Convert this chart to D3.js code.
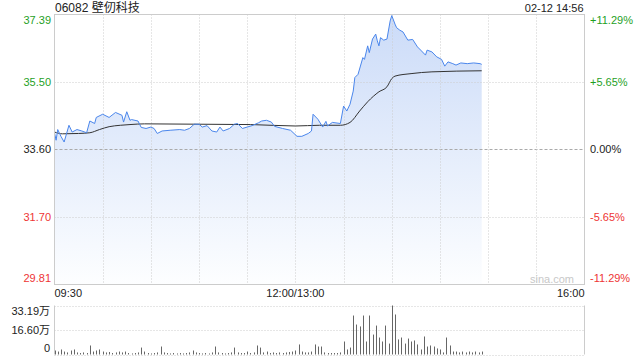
<!DOCTYPE html>
<html>
<head>
<meta charset="utf-8">
<script src="https://cdn.jsdelivr.net/npm/d3@7"></script>
<style>
  body { margin: 0; background: #fff; }
  text { font-family: "Liberation Sans", Arial, "Noto Sans CJK SC", sans-serif; }
</style>
</head>
<body>
<script>
'use strict';

// header texts
const stockTitle = '06082 壁仞科技';
const stampText = '02-12 14:56';

// price axis, left = price, right = change vs previous close
const priceTicks = [37.39, 35.50, 33.60, 31.70, 29.81];
const pctTicks = ['+11.29%', '+5.65%', '0.00%', '-5.65%', '-11.29%'];

// time axis in trading minutes after 09:30 (lunch break removed)
const timeTicks = [0, 150, 330];
const timeLabels = ['09:30', '12:00/13:00', '16:00'];
const gridMinutes = [30, 60, 90, 120, 150, 180, 210, 240, 270, 300];

// last price
const priceMinute = [0, 1, 2, 4, 6, 9, 11, 14, 17, 20, 22, 25, 26, 30, 34, 38, 42, 43, 45, 47,
  48, 52, 54, 57, 60, 62, 64, 67, 72, 78, 81, 84, 87, 90, 92, 95, 98, 101, 103, 105,
  109, 112, 114, 117, 120, 123, 127, 129, 132, 135, 137, 142, 147, 151, 154, 158, 160, 161, 164, 167,
  169, 170, 173, 178, 180, 182, 184, 186, 187, 189, 192, 193, 195, 196, 198, 200, 201, 202, 203, 205,
  207, 209, 210, 212, 213, 215, 217, 220, 223, 226, 228, 231, 232, 235, 238, 241, 243, 245, 248, 250,
  253, 257, 261, 265, 266];
const priceValue = [34.07, 33.86, 34.16, 33.97, 33.81, 34.28, 34.09, 34.16, 34.12, 34.07, 34.40, 34.33, 34.50, 34.59, 34.50, 34.64, 34.56, 34.37, 34.66, 34.42,
  34.44, 34.40, 34.22, 34.19, 34.23, 34.19, 34.05, 34.12, 34.14, 34.16, 34.14, 34.19, 34.31, 34.31, 34.23, 34.27, 34.12, 34.09, 34.23, 34.12,
  34.19, 34.31, 34.33, 34.19, 34.23, 34.27, 34.35, 34.40, 34.42, 34.37, 34.25, 34.19, 34.14, 33.97, 33.97, 34.05, 34.12, 34.59, 34.45, 34.23,
  34.39, 34.26, 34.36, 34.33, 34.82, 34.68, 34.87, 35.24, 35.62, 35.71, 36.18, 36.13, 36.51, 36.32, 36.70, 36.84, 36.65, 36.51, 36.74, 36.67,
  36.70, 37.21, 37.36, 37.12, 37.02, 36.95, 36.90, 36.67, 36.69, 36.48, 36.39, 36.25, 36.39, 36.34, 36.20, 36.13, 35.94, 36.06, 36.01, 35.97,
  36.03, 36.01, 36.03, 36.01, 35.99];

// average price line
const avgMinute = [0, 5, 15, 22, 28, 34, 41, 47, 56, 90, 122, 150, 165, 178, 184, 190, 195, 202, 207, 210, 212, 222, 235, 266];
const avgValue = [34.09, 34.04, 34.05, 34.07, 34.16, 34.24, 34.28, 34.30, 34.32, 34.31, 34.30, 34.26, 34.28, 34.28, 34.36, 34.68, 34.94, 35.22, 35.36, 35.59, 35.66, 35.73, 35.78, 35.81];

// volume in 万 shares, one bar every 2 minutes
const volumeValue = [2.7, 2.0, 3.4, 2.0, 1.4, 2.7, 3.4, 1.4, 1.0, 1.4, 1.0, 6.1, 2.0, 2.7, 3.4, 2.0, 1.4, 1.7, 1.0, 1.4,
  2.0, 1.4, 2.0, 1.0, 0.7, 1.0, 1.4, 4.7, 2.0, 1.0, 0.7, 1.0, 1.4, 5.4, 1.4, 1.0, 0.7, 1.0, 0.7, 1.0,
  0.7, 1.0, 1.4, 2.7, 1.4, 1.0, 0.7, 1.0, 0.7, 1.4, 5.4, 1.4, 1.0, 0.7, 1.0, 1.4, 4.7, 1.4, 1.0, 1.0,
  2.0, 1.0, 1.4, 6.1, 4.7, 1.4, 2.0, 1.0, 1.4, 1.0, 1.4, 1.0, 1.4, 1.7, 2.0,
  2.7, 6.8, 2.0, 1.4, 1.4, 2.0, 6.8, 5.4, 5.4, 1.4, 1.0, 1.0, 1.0, 1.0, 1.4, 8.8, 3.4, 4.7, 26.4, 20.3,
  19.0, 26.4, 8.8, 26.4, 13.5, 19.6, 11.5, 8.8, 19.6, 7.4, 33.19, 27.1, 10.2, 11.5, 7.4, 10.8, 8.8, 9.5, 6.8, 3.4,
  12.2, 5.4, 6.1, 5.4, 4.1, 3.4, 1.4, 11.5, 6.1, 2.0, 2.0, 1.4, 2.0, 1.4, 2.0, 1.4, 2.0, 1.4, 2.0];
const volumeTicks = [33.19, 16.60, 0];
const volumeLabels = ['33.19万', '16.60万', '0'];

(function() {

  const msm = {
    width: 640,
    height: 360,
    left: 54.5,
    right: 584.5,
    top: 14.5,
    bottom: 284.5,
    volTop: 305.5,
    volBottom: 354.5
  };
  const green = '#1f9f1f';
  const red = '#ee3535';
  const dark = '#222';
  const lineBlue = '#4a86ec';

  let svgContainer = '';

  window.onload = function() {
    svgContainer = d3.select('body')
      .append('svg')
      .attr('width', msm.width)
      .attr('height', msm.height);
    makeChart();
  };

  function makeChart() {
    // scales
    let xScale = d3.scaleLinear().domain([0, 330]).range([msm.left, msm.right]);
    let yScale = d3.scaleLinear()
      .domain([priceTicks[4], priceTicks[0]])
      .range([msm.bottom, msm.top]);
    let vScale = d3.scaleLinear()
      .domain([0, volumeTicks[0]])
      .range([msm.volBottom, msm.volTop]);

    let priceData = priceMinute.map((m, i) => ({ m: m, p: priceValue[i] }));
    let avgData = avgMinute.map((m, i) => ({ m: m, p: avgValue[i] }));
    let volData = volumeValue.map((v, i) => ({ m: i * 2, v: v }));

    // gradient for the area under the price
    let defs = svgContainer.append('defs');
    let grad = defs.append('linearGradient')
      .attr('id', 'areaFill')
      .attr('gradientUnits', 'userSpaceOnUse')
      .attr('x1', 0).attr('x2', 0)
      .attr('y1', msm.top).attr('y2', msm.bottom);
    grad.append('stop').attr('offset', '0%').attr('stop-color', '#cbdbf8');
    grad.append('stop').attr('offset', '100%').attr('stop-color', '#fdfeff');

    // price area first, grid is drawn over it
    svgContainer.append('path')
      .datum(priceData)
      .attr('fill', 'url(#areaFill)')
      .attr('d', d3.area()
        .x((d) => xScale(d.m))
        .y0(msm.bottom)
        .y1((d) => yScale(d.p)));

    // horizontal grid lines
    svgContainer.append('g')
      .selectAll('line')
      .data(priceTicks.slice(1, 4))
      .enter()
      .append('line')
        .attr('x1', msm.left)
        .attr('x2', msm.right)
        .attr('y1', (d) => Math.round(yScale(d)) + 0.5)
        .attr('y2', (d) => Math.round(yScale(d)) + 0.5)
        .attr('stroke', (d, i) => i == 1 ? '#aaa' : '#ccc')
        .attr('stroke-dasharray', (d, i) => i == 1 ? '3,2' : '1,2');

    // vertical grid lines
    svgContainer.append('g')
      .selectAll('line')
      .data(gridMinutes)
      .enter()
      .append('line')
        .attr('x1', (d) => Math.round(xScale(d)) + 0.5)
        .attr('x2', (d) => Math.round(xScale(d)) + 0.5)
        .attr('y1', msm.top)
        .attr('y2', msm.bottom)
        .attr('stroke', '#ccc')
        .attr('stroke-dasharray', '1,2');

    // average and price lines
    svgContainer.append('path')
      .datum(avgData)
      .attr('fill', 'none')
      .attr('stroke', '#333')
      .attr('stroke-width', 1)
      .attr('d', d3.line()
        .curve(d3.curveMonotoneX)
        .x((d) => xScale(d.m))
        .y((d) => yScale(d.p)));

    svgContainer.append('path')
      .datum(priceData)
      .attr('fill', 'none')
      .attr('stroke', lineBlue)
      .attr('stroke-width', 1)
      .attr('d', d3.line()
        .x((d) => xScale(d.m))
        .y((d) => yScale(d.p)));

    // frame of price pane
    svgContainer.append('rect')
      .attr('x', msm.left)
      .attr('y', msm.top)
      .attr('width', msm.right - msm.left)
      .attr('height', msm.bottom - msm.top)
      .attr('fill', 'none')
      .attr('stroke', '#ccc');

    // watermark
    svgContainer.append('text')
      .attr('x', 552)
      .attr('y', 283)
      .attr('text-anchor', 'middle')
      .style('font-size', '11px')
      .attr('fill', '#c8c8c8')
      .text('sina.com');

    // price labels on both sides
    let colorOf = (i) => i < 2 ? green : (i == 2 ? dark : red);
    let labelY = (y, top, bottom) => Math.max(top + 6, Math.min(bottom - 6, y));

    svgContainer.append('g')
      .selectAll('text')
      .data(priceTicks)
      .enter()
      .append('text')
        .attr('x', 51)
        .attr('y', (d) => labelY(yScale(d), msm.top, msm.bottom))
        .attr('dy', '0.35em')
        .attr('text-anchor', 'end')
        .style('font-size', '11px')
        .attr('fill', (d, i) => colorOf(i))
        .text((d) => d.toFixed(2));

    svgContainer.append('g')
      .selectAll('text')
      .data(pctTicks)
      .enter()
      .append('text')
        .attr('x', 590)
        .attr('y', (d, i) => labelY(yScale(priceTicks[i]), msm.top, msm.bottom))
        .attr('dy', '0.35em')
        .style('font-size', '11px')
        .attr('fill', (d, i) => colorOf(i))
        .text((d) => d);

    // time labels
    svgContainer.append('g')
      .selectAll('text')
      .data(timeTicks)
      .enter()
      .append('text')
        .attr('x', (d) => xScale(d))
        .attr('y', 297)
        .attr('text-anchor', (d, i) => ['start', 'middle', 'end'][i])
        .style('font-size', '11px')
        .attr('fill', dark)
        .text((d, i) => timeLabels[i]);

    // header
    svgContainer.append('text')
      .attr('x', 55)
      .attr('y', 12)
      .style('font-size', '12px')
      .attr('fill', dark)
      .text(stockTitle);

    svgContainer.append('text')
      .attr('x', msm.right - 1)
      .attr('y', 12)
      .attr('text-anchor', 'end')
      .style('font-size', '11px')
      .attr('fill', dark)
      .text(stampText);

    // volume pane
    svgContainer.append('g')
      .selectAll('line')
      .data(volumeTicks)
      .enter()
      .append('line')
        .attr('x1', msm.left)
        .attr('x2', msm.right)
        .attr('y1', (d) => Math.round(vScale(d)) + 0.5)
        .attr('y2', (d) => Math.round(vScale(d)) + 0.5)
        .attr('stroke', '#ccc')
        .attr('stroke-dasharray', '1,2');

    [msm.left, msm.right].forEach((x) => {
      svgContainer.append('line')
        .attr('x1', x).attr('x2', x)
        .attr('y1', msm.volTop).attr('y2', msm.volBottom)
        .attr('stroke', '#ccc');
    });

    svgContainer.append('g')
      .selectAll('rect')
      .data(volData)
      .enter()
      .append('rect')
        .attr('x', (d) => Math.round(xScale(d.m)))
        .attr('y', (d) => vScale(d.v))
        .attr('width', 1)
        .attr('height', (d) => msm.volBottom - vScale(d.v))
        .attr('fill', '#666');

    svgContainer.append('g')
      .selectAll('text')
      .data(volumeTicks)
      .enter()
      .append('text')
        .attr('x', 50)
        .attr('y', (d) => labelY(vScale(d), msm.volTop, msm.volBottom))
        .attr('dy', '0.35em')
        .attr('text-anchor', 'end')
        .style('font-size', '11px')
        .attr('fill', dark)
        .text((d, i) => volumeLabels[i]);
  }

})();
</script>
</body>
</html>
